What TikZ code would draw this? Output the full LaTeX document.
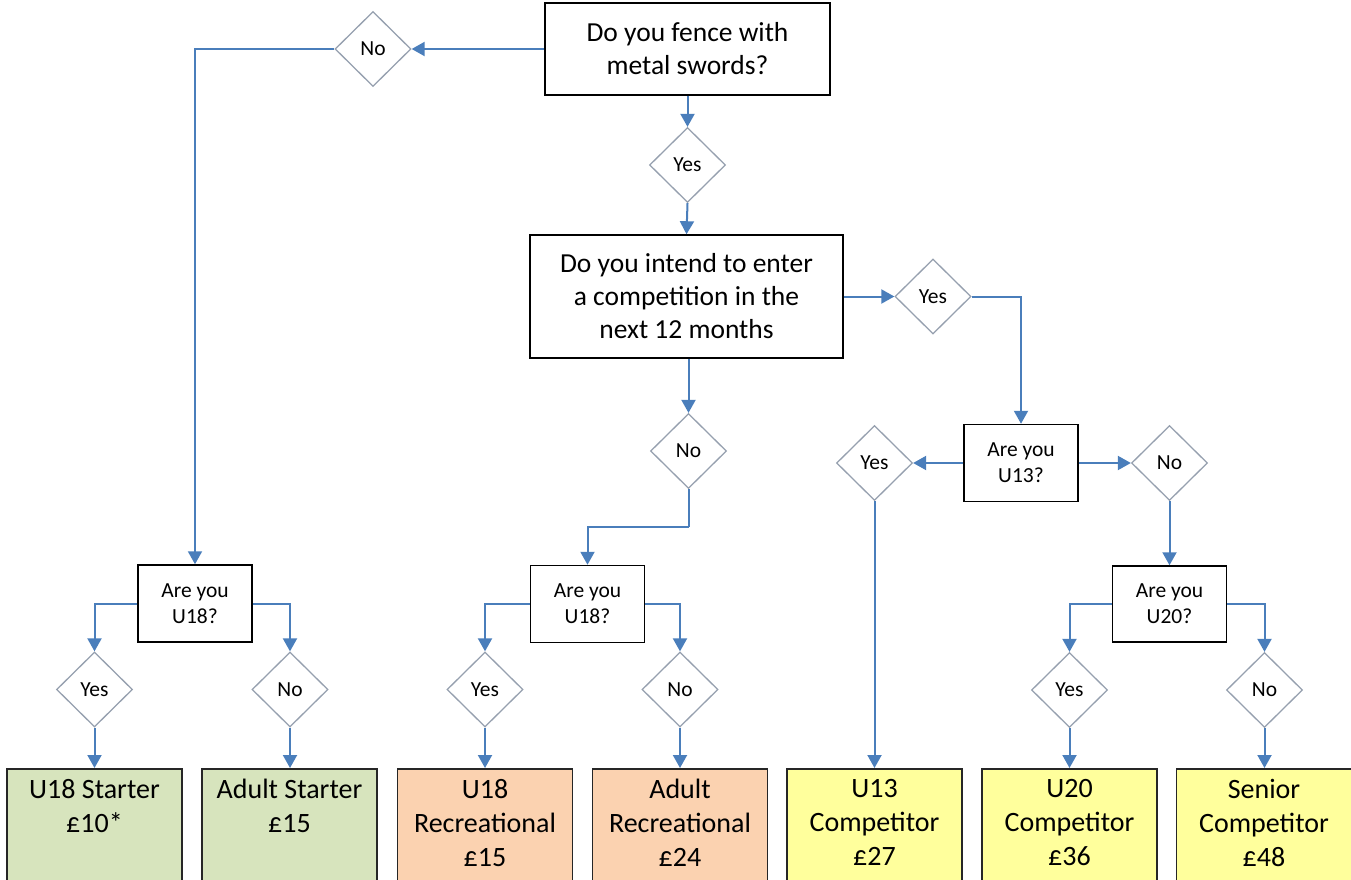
\documentclass[tikz,border=0pt]{standalone}
\usepackage{fontspec}
\setmainfont{Carlito}
\usetikzlibrary{shapes.geometric,arrows.meta}
\definecolor{conn}{HTML}{4A7EBB}
\definecolor{dgray}{RGB}{150,160,175}
\definecolor{gfill}{HTML}{D7E4BD}
\definecolor{ofill}{HTML}{FBD2B0}
\definecolor{yfill}{HTML}{FFFF9C}
\tikzset{
  bigq/.style={draw=black, line width=1.5pt, fill=white, inner sep=0pt, align=center,
    font=\fontsize{27.5}{33}\selectfont},
  smallq/.style={draw=black, line width=1.5pt, fill=white, inner sep=0pt, align=center,
    font=\fontsize{21.5}{26}\selectfont, minimum width=114pt, minimum height=77pt},
  dec/.style={diamond, draw=dgray, line width=1.3pt, fill=white, inner sep=0pt,
    minimum width=76pt, minimum height=75pt, font=\fontsize{21.5}{24}\selectfont},
  leaf/.style={draw=black!85, line width=1.5pt, minimum width=175pt, minimum height=140pt,
    anchor=north, inner sep=0pt},
  leaftext/.style={anchor=north, inner sep=0pt, align=center, yshift=-11pt,
    font=\fontsize{28}{34}\selectfont},
  arr/.style={draw=conn, line width=2pt, -{Triangle[length=13pt,width=14pt]}},
  ln/.style={draw=conn, line width=2pt},
}
\begin{document}
\begin{tikzpicture}[x=1pt,y=-1pt]
\useasboundingbox (0,0) rectangle (1351,880);
\clip (0,0) rectangle (1351,880);
% questions
\node[bigq, minimum width=285pt, minimum height=92pt] (q1) at (687.5,49) {Do you fence with\\metal swords?};
\node[bigq, minimum width=313pt, minimum height=123pt] (q2) at (686.5,296.5) {Do you intend to enter\\a competition in the\\next 12 months};
\node[smallq] (ua) at (195,603.5) {Are you\\U18?};
\node[smallq] (ub) at (587.5,604) {Are you\\U18?};
\node[smallq] (uc) at (1021,463) {Are you\\U13?};
\node[smallq, minimum height=76pt] (ud) at (1169.5,604) {Are you\\U20?};
% decisions
\node[dec] (n1) at (373,49) {No};
\node[dec] (y1) at (687.5,165) {Yes};
\node[dec] (y2) at (933,296.5) {Yes};
\node[dec] (n2) at (688.5,451) {No};
\node[dec] (y3) at (874.5,463) {Yes};
\node[dec] (n3) at (1169.5,463) {No};
\node[dec] (ya) at (94.5,689.5) {Yes};
\node[dec] (na) at (290,689.5) {No};
\node[dec] (yb) at (485,689.5) {Yes};
\node[dec] (nb) at (680,689.5) {No};
\node[dec] (yc) at (1069.5,690) {Yes};
\node[dec] (nc) at (1264.5,690) {No};
% leaves
\node[leaf, fill=gfill, label={[leaftext]north:{U18 Starter\\£10*}}] (l1) at (94.5,768) {};
\node[leaf, fill=gfill, label={[leaftext]north:{Adult Starter\\£15}}] (l2) at (289.5,768) {};
\node[leaf, fill=ofill, label={[leaftext]north:{U18\\Recreational\\£15}}] (l3) at (485,768) {};
\node[leaf, fill=ofill, label={[leaftext]north:{Adult\\Recreational\\£24}}] (l4) at (680,768) {};
\node[leaf, fill=yfill, label={[leaftext]north:{U13\\Competitor\\£27}}] (l5) at (874.5,768) {};
\node[leaf, fill=yfill, label={[leaftext]north:{U20\\Competitor\\£36}}] (l6) at (1069.5,768) {};
\node[leaf, fill=yfill, label={[leaftext]north:{Senior\\Competitor\\£48}}] (l7) at (1264,768) {};
% connectors
\path[arr] (q1.west) -- (n1.east);
\path[arr] (n1.west) -| (ua.north);
\path[arr] (q1.south) -- (y1.north);
\path[arr] (y1.south) -- (q2.north);
\path[arr] (q2.east) -- (y2.west);
\path[arr] (y2.east) -| (uc.north);
\path[arr] (q2.south -| n2.north) -- (n2.north);
\coordinate (k1) at (688.5,527);
\path[ln] (n2.south) -- (k1);
\path[arr] (k1) -| (ub.north);
\path[arr] (uc.west) -- (y3.east);
\path[arr] (y3.south) -- (l5.north);
\path[arr] (uc.east) -- (n3.west);
\path[arr] (n3.south) -- (ud.north);
\path[arr] (ua.west) -| (ya.north);
\path[arr] (ua.east) -| (na.north);
\path[arr] (ub.west) -| (yb.north);
\path[arr] (ub.east) -| (nb.north);
\path[arr] (ud.west) -| (yc.north);
\path[arr] (ud.east) -| (nc.north);
\path[arr] (ya.south) -- (ya.south |- l1.north);
\path[arr] (na.south) -- (na.south |- l2.north);
\path[arr] (yb.south) -- (yb.south |- l3.north);
\path[arr] (nb.south) -- (nb.south |- l4.north);
\path[arr] (yc.south) -- (yc.south |- l6.north);
\path[arr] (nc.south) -- (nc.south |- l7.north);
\end{tikzpicture}
\end{document}
